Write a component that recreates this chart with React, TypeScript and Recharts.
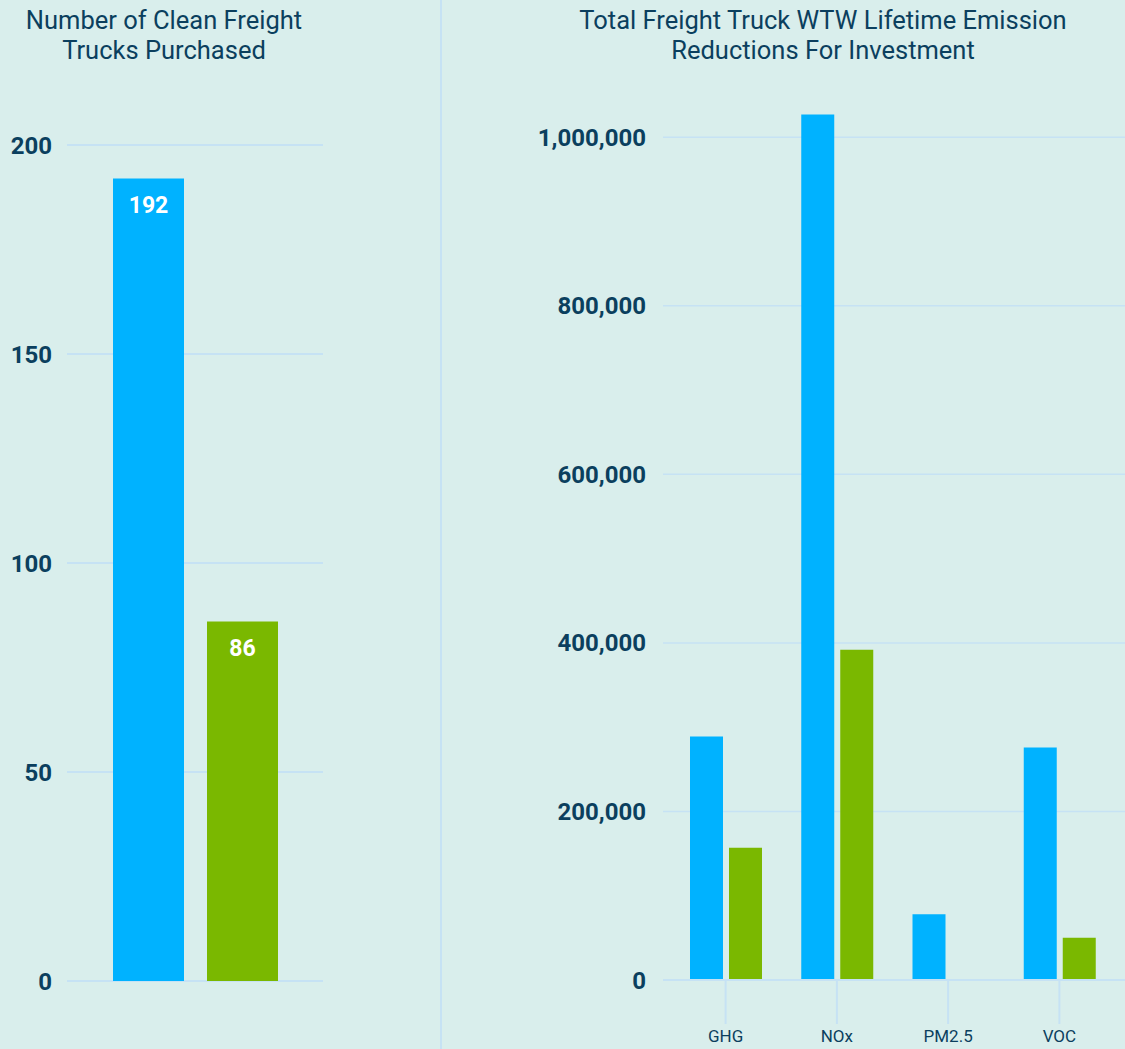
import React from 'react';
import { BarChart, Bar, XAxis, YAxis, CartesianGrid, LabelList } from 'recharts';

const trucksCategories = ['Trucks'];
const trucksBlue = [192];
const trucksGreen = [86];
const trucksTicks = [0, 50, 100, 150, 200];

const emissionCategories = ['GHG', 'NOx', 'PM2.5', 'VOC'];
const emissionBlue = [289000, 1027000, 78000, 276000];
const emissionGreen = [157000, 392000, 0, 50000];
const emissionTicks = [0, 200000, 400000, 600000, 800000, 1000000];

const BG = '#d9eeec';
const BLUE = '#00b2ff';
const GREEN = '#7ab800';
const TEXT = '#0b3f5e';
const GRID = '#c6e2f4';
const FONT = 'Roboto, "Noto Sans", sans-serif';

const trucksData = trucksCategories.map((name, i) => ({
    name,
    blue: trucksBlue[i],
    green: trucksGreen[i],
}));

const emissionData = emissionCategories.map((name, i) => ({
    name,
    blue: emissionBlue[i],
    green: emissionGreen[i],
}));

const titleStyle: React.CSSProperties = {
    position: 'absolute',
    top: 5,
    textAlign: 'center',
    color: TEXT,
    fontFamily: FONT,
    fontSize: 25.5,
    lineHeight: '30px',
    fontWeight: 400,
};

const yTick = { fill: TEXT, fontSize: 24, fontWeight: 700, fontFamily: FONT };

export default function App() {
    return (
        <div
            style={{
                position: 'absolute',
                left: 0,
                top: 0,
                width: 1125,
                height: 1049,
                background: BG,
                overflow: 'hidden',
            }}
        >
            <div style={{ ...titleStyle, left: 0, width: 328 }}>
                Number of Clean Freight
                <br />
                Trucks Purchased
            </div>
            <div style={{ ...titleStyle, left: 520, width: 606 }}>
                Total Freight Truck WTW Lifetime Emission
                <br />
                Reductions For Investment
            </div>
            <div
                style={{
                    position: 'absolute',
                    left: 440,
                    top: 0,
                    width: 2,
                    height: 1049,
                    background: GRID,
                }}
            />

            {/* left panel */}
            <div style={{ position: 'absolute', left: 0, top: 0 }}>
                <BarChart
                    width={441}
                    height={1049}
                    data={trucksData}
                    margin={{ top: 145, right: 118, bottom: 68, left: 0 }}
                    barCategoryGap={45}
                    barGap={23}
                >
                    <CartesianGrid vertical={false} stroke={GRID} strokeWidth={2} horizontalValues={trucksTicks} />
                    <XAxis dataKey="name" hide />
                    <YAxis
                        width={67}
                        domain={[0, 200]}
                        ticks={trucksTicks}
                        axisLine={false}
                        tickLine={false}
                        tickSize={0}
                        tickMargin={15}
                        tick={yTick}
                    />
                    <Bar dataKey="blue" fill={BLUE} barSize={71} isAnimationActive={false}>
                        <LabelList
                            dataKey="blue"
                            position="insideTop"
                            offset={18}
                            fill="#ffffff"
                            fontSize={23}
                            fontWeight={700}
                            fontFamily={FONT}
                        />
                    </Bar>
                    <Bar dataKey="green" fill={GREEN} barSize={71} isAnimationActive={false}>
                        <LabelList
                            dataKey="green"
                            position="insideTop"
                            offset={18}
                            fill="#ffffff"
                            fontSize={23}
                            fontWeight={700}
                            fontFamily={FONT}
                        />
                    </Bar>
                </BarChart>
            </div>

            {/* right panel */}
            <div style={{ position: 'absolute', left: 441, top: 0 }}>
                <BarChart
                    width={684}
                    height={1049}
                    data={emissionData}
                    margin={{ top: 53, right: 0, bottom: 0, left: 0 }}
                    barCategoryGap={19}
                    barGap={6}
                >
                    <CartesianGrid vertical={false} stroke={GRID} strokeWidth={1.5} horizontalValues={emissionTicks} />
                    <XAxis
                        dataKey="name"
                        height={69}
                        padding={{ left: 7, right: 10 }}
                        axisLine={{ stroke: GRID, strokeWidth: 2 }}
                        tickLine={{ stroke: GRID, strokeWidth: 2 }}
                        tickSize={44}
                        tickMargin={6}
                        tick={{ fill: TEXT, fontSize: 17, fontFamily: FONT }}
                    />
                    <YAxis
                        width={222}
                        domain={[0, 1100000]}
                        ticks={emissionTicks}
                        axisLine={false}
                        tickLine={false}
                        tickSize={0}
                        tickMargin={17}
                        tick={yTick}
                        tickFormatter={(v: number) => v.toLocaleString('en-US')}
                    />
                    <Bar dataKey="blue" fill={BLUE} barSize={33} isAnimationActive={false} />
                    <Bar dataKey="green" fill={GREEN} barSize={33} isAnimationActive={false} />
                </BarChart>
            </div>
        </div>
    );
}
